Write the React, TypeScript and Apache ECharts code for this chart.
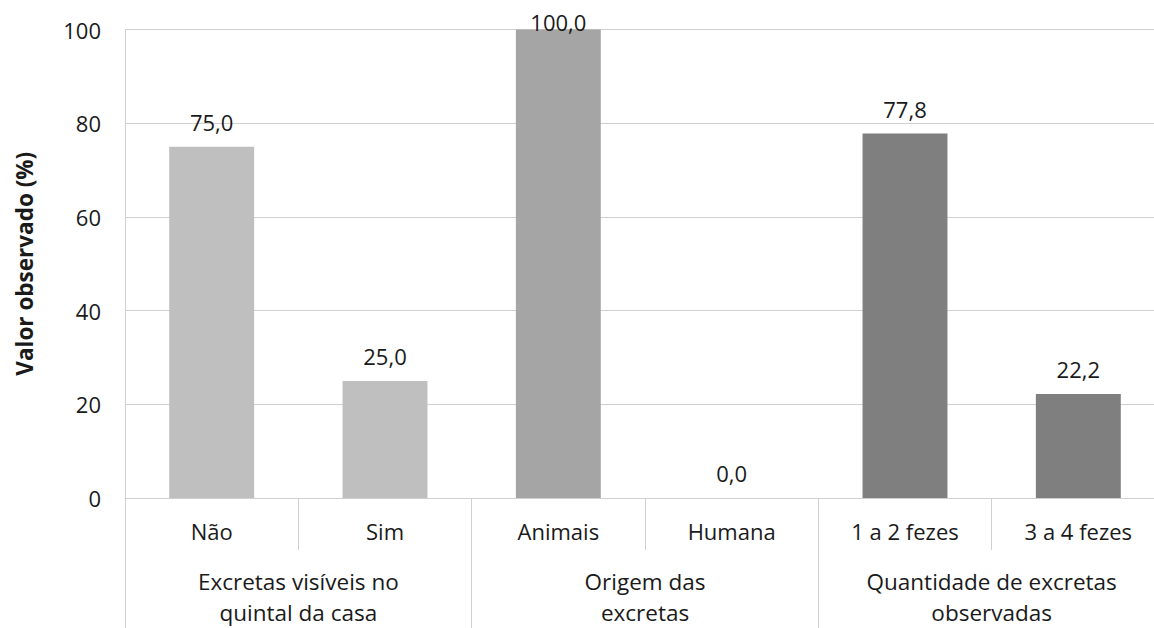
import React, { useEffect, useRef } from "react";
import * as echarts from "echarts";

const categories = ["Não", "Sim", "Animais", "Humana", "1 a 2 fezes", "3 a 4 fezes"];
const values = [75.0, 25.0, 100.0, 0.0, 77.8, 22.2];
const barColors = ["#bfbfbf", "#bfbfbf", "#a5a5a5", "#a5a5a5", "#7f7f7f", "#7f7f7f"];
const groups = ["Excretas visíveis no\nquintal da casa", "Origem das\nexcretas", "Quantidade de excretas\nobservadas"];
const yTitle = "Valor observado (%)";

const FONT = "'Open Sans', 'Noto Sans', sans-serif";
const TEXT = "#1a1a1a";
const LINE = "#d0d0d0";

export default function App() {
  const ref = useRef<HTMLDivElement>(null);
  useEffect(() => {
    if (!ref.current) return;
    const chart = echarts.init(ref.current, undefined, { renderer: "svg" });
    chart.setOption({
      animation: false,
      textStyle: { fontFamily: FONT },
      grid: {
        left: 125,
        top: 29.5,
        width: 1040,
        height: 468.5,
        containLabel: false,
        outerBoundsMode: "none",
      },
      yAxis: {
        type: "value",
        min: 0,
        max: 100,
        interval: 20,
        axisLine: { show: true, lineStyle: { color: LINE } },
        axisTick: { show: false },
        splitLine: { show: true, lineStyle: { color: LINE } },
        axisLabel: { fontSize: 22, color: TEXT, margin: 24, fontFamily: FONT },
        name: yTitle,
        nameLocation: "middle",
        nameGap: 89,
        nameRotate: 90,
        nameTextStyle: { fontSize: 22.5, fontWeight: "bold", color: TEXT, fontFamily: FONT },
      },
      xAxis: [
        {
          type: "category",
          data: categories,
          position: "bottom",
          axisLine: { show: true, lineStyle: { color: LINE } },
          axisTick: { show: true, interval: 0, length: 52, lineStyle: { color: LINE } },
          axisLabel: { fontSize: 22, color: TEXT, margin: 22, lineHeight: 22, interval: 0, fontFamily: FONT },
          splitLine: { show: false },
        },
        {
          type: "category",
          data: groups,
          position: "bottom",
          axisLine: { show: false },
          axisTick: { show: true, interval: 0, length: 135, lineStyle: { color: LINE } },
          axisLabel: { fontSize: 22.5, color: TEXT, margin: 68, lineHeight: 31, interval: 0, fontFamily: FONT },
          splitLine: { show: false },
        },
      ],
      series: [
        {
          type: "bar",
          xAxisIndex: 0,
          barWidth: "49%",
          data: values.map((v, i) => ({
            value: v,
            itemStyle: { color: barColors[i] },
            label: { distance: v >= 100 ? -3 : 14 },
          })),
          label: {
            show: true,
            position: "top",
            fontSize: 22,
            color: TEXT,
            fontFamily: FONT,
            formatter: (p: any) => Number(p.value).toFixed(1).replace(".", ","),
          },
        },
      ],
    });
    return () => chart.dispose();
  }, []);
  return (
    <div
      ref={ref}
      style={{ position: "fixed", left: 0, top: 0, width: 1154, height: 628, background: "#ffffff" }}
    />
  );
}
